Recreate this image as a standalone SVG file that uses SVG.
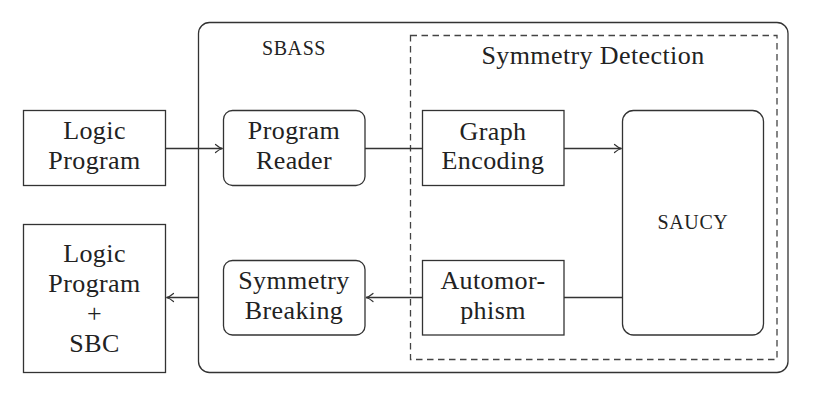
<svg xmlns="http://www.w3.org/2000/svg" width="830" height="402" viewBox="0 0 830 402">
<style>
.box{fill:none;stroke:#333;stroke-width:1.3}
.dash{fill:none;stroke:#444;stroke-width:1.3;stroke-dasharray:6.5 4.5}
.t{font-family:"Liberation Serif","DejaVu Serif",serif;font-size:26px;letter-spacing:0.4px;fill:#222;text-anchor:middle}
.sc{font-family:"Liberation Serif","DejaVu Serif",serif;font-size:20px;letter-spacing:0.6px;fill:#222;text-anchor:middle}
.c{fill:none;stroke:#333;stroke-width:1.3}
</style>
<defs>
<marker id="arr" markerUnits="userSpaceOnUse" markerWidth="12" markerHeight="12" viewBox="-8 -6 10 12" refX="0" refY="0" orient="auto">
<path d="M -7 -4 C -4.5 -1.8, -1.8 -0.4, 0 0 C -1.8 0.4, -4.5 1.8, -7 4" fill="none" stroke="#333" stroke-width="1.2" stroke-linecap="round"/>
</marker>
</defs>
<g id="sbass">
<rect class="box" x="198.5" y="22.5" width="589.5" height="350" rx="11"/>
<text class="sc" x="294" y="55">SBASS</text>
</g>
<g id="symmetry-detection">
<rect class="dash" x="410.5" y="35.5" width="366.5" height="324"/>
<text class="t" x="593" y="64">Symmetry Detection</text>
</g>
<g id="logic-program">
<rect class="box" x="23.5" y="110.5" width="142" height="75"/>
<text class="t" x="94.5" y="139">Logic</text>
<text class="t" x="94.5" y="168.5">Program</text>
</g>
<g id="program-reader">
<rect class="box" x="223.5" y="110.5" width="141.5" height="75" rx="9"/>
<text class="t" x="294" y="139">Program</text>
<text class="t" x="294" y="168.5">Reader</text>
</g>
<g id="graph-encoding">
<rect class="box" x="422.5" y="110.5" width="141.5" height="75"/>
<text class="t" x="493" y="139.5">Graph</text>
<text class="t" x="493" y="169">Encoding</text>
</g>
<g id="saucy">
<rect class="box" x="622.5" y="110.5" width="141" height="224.5" rx="11"/>
<text class="sc" x="693" y="229">SAUCY</text>
</g>
<g id="automorphism">
<rect class="box" x="422.5" y="260.5" width="141.5" height="74.5"/>
<text class="t" x="493" y="288.5">Automor-</text>
<text class="t" x="493" y="318.5">phism</text>
</g>
<g id="symmetry-breaking">
<rect class="box" x="223.5" y="260.5" width="141.5" height="74.5" rx="9"/>
<text class="t" x="294" y="289">Symmetry</text>
<text class="t" x="294" y="319">Breaking</text>
</g>
<g id="logic-program-sbc">
<rect class="box" x="23.5" y="224.5" width="142" height="148"/>
<text class="t" x="94.5" y="262">Logic</text>
<text class="t" x="94.5" y="292">Program</text>
<text class="t" x="94.5" y="322">+</text>
<text class="t" x="94.5" y="352">SBC</text>
</g>
<g id="connectors">
<line class="c" x1="165.5" y1="148.5" x2="222.5" y2="148.5" marker-end="url(#arr)"/>
<line class="c" x1="365" y1="148.5" x2="422.5" y2="148.5"/>
<line class="c" x1="564" y1="148.5" x2="621.5" y2="148.5" marker-end="url(#arr)"/>
<line class="c" x1="622.5" y1="297.5" x2="564" y2="297.5"/>
<line class="c" x1="422.5" y1="297.5" x2="366" y2="297.5" marker-end="url(#arr)"/>
<line class="c" x1="198.5" y1="297.5" x2="166.5" y2="297.5" marker-end="url(#arr)"/>
</g>
</svg>
